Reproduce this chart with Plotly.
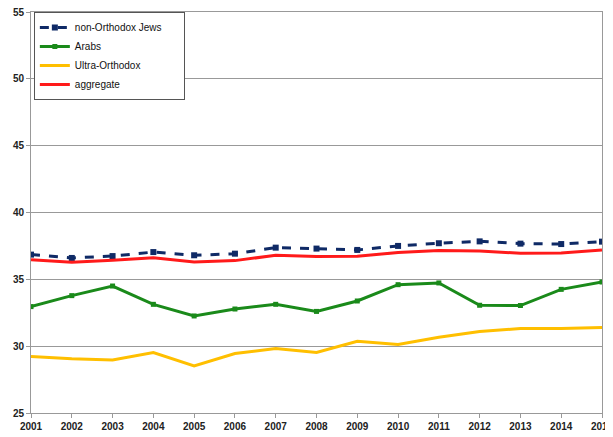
import plotly.graph_objects as go

years = list(range(2001, 2016))
non_orthodox = [36.85, 36.6, 36.74, 37.04, 36.8, 36.92, 37.37, 37.3, 37.2, 37.5, 37.7, 37.84, 37.67, 37.64, 37.82]
arabs = [32.96, 33.78, 34.5, 33.13, 32.26, 32.78, 33.13, 32.6, 33.38, 34.6, 34.73, 33.06, 33.04, 34.25, 34.8]
ultra_orthodox = [29.23, 29.06, 28.96, 29.53, 28.53, 29.45, 29.83, 29.53, 30.37, 30.13, 30.67, 31.1, 31.32, 31.32, 31.4]
aggregate = [36.47, 36.27, 36.42, 36.62, 36.3, 36.4, 36.8, 36.7, 36.72, 37.0, 37.15, 37.12, 36.95, 36.97, 37.2]

pad = "\u00a0" * 6  # widens the legend box like the reference

fig = go.Figure()
fig.add_trace(go.Scatter(x=years, y=non_orthodox, name="non-Orthodox Jews" + pad, mode="lines+markers",
                         line=dict(color="#0f2a66", width=3, dash="dash"),
                         marker=dict(symbol="square", size=6, color="#0f2a66")))
fig.add_trace(go.Scatter(x=years, y=arabs, name="Arabs", mode="lines+markers",
                         line=dict(color="#1a8a1a", width=3),
                         marker=dict(symbol="square", size=5, color="#1a8a1a")))
fig.add_trace(go.Scatter(x=years, y=ultra_orthodox, name="Ultra-Orthodox", mode="lines",
                         line=dict(color="#ffbf00", width=3)))
fig.add_trace(go.Scatter(x=years, y=aggregate, name="aggregate", mode="lines",
                         line=dict(color="#ff1a1a", width=3)))

tickfont = dict(family="Liberation Sans, Arial, sans-serif", size=10, color="#222", weight="bold")

# page body has an 8px default margin; margins compensate so the plot area lands at
# x 31..602, y 12..413 in the 613x437 window
fig.update_layout(
    width=613, height=437,
    margin=dict(l=23, r=19, t=4, b=32),
    paper_bgcolor="white", plot_bgcolor="white",
    font=dict(family="Liberation Sans, Arial, sans-serif", size=10, color="#222"),
    showlegend=True,
    legend=dict(x=0.005, y=1, xanchor="left", yanchor="top",
                bordercolor="#555", borderwidth=1, bgcolor="white",
                font=dict(size=10, color="#111"), tracegroupgap=0,
                itemwidth=30),
    xaxis=dict(range=[2001, 2015], tickmode="array", tickvals=years,
               ticktext=[str(y) for y in years],
               showgrid=False, showline=True, linecolor="#999", linewidth=1,
               mirror=True, ticks="outside", ticklen=4, tickcolor="#999",
               tickfont=tickfont, zeroline=False, automargin=False,
               ticklabeloverflow="allow"),
    yaxis=dict(range=[25, 55], dtick=5, tick0=25,
               showgrid=True, gridcolor="#999", gridwidth=1,
               showline=True, linecolor="#999", linewidth=1, mirror=True,
               ticks="outside", ticklen=4, tickcolor="#999",
               tickfont=tickfont, zeroline=False, automargin=False,
               ticklabeloverflow="allow"),
)

fig.write_html("out.html")
